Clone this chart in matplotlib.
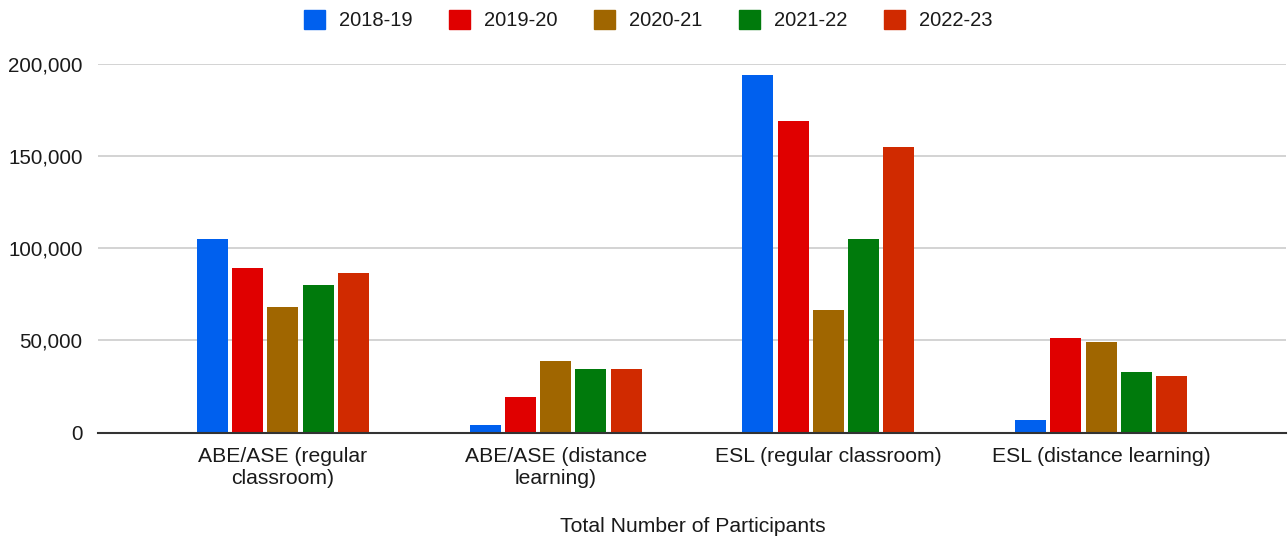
import numpy as np
import matplotlib.pyplot as plt
from matplotlib.patches import Patch

plt.rcParams['font.family'] = ['Liberation Sans', 'DejaVu Sans']

# data
categories = ["ABE/ASE (regular\nclassroom)", "ABE/ASE (distance\nlearning)",
              "ESL (regular classroom)", "ESL (distance learning)"]
years = ["2018-19", "2019-20", "2020-21", "2021-22", "2022-23"]
v_2018_19 = [104800, 4000, 193500, 7000]
v_2019_20 = [89400, 19500, 168600, 51200]
v_2020_21 = [68300, 38700, 66500, 49200]
v_2021_22 = [79900, 34700, 105000, 32900]
v_2022_23 = [86700, 34700, 155000, 30900]
series = [v_2018_19, v_2019_20, v_2020_21, v_2021_22, v_2022_23]
colors = ["#0060ee", "#e00000", "#a06600", "#007a0c", "#d02a00"]

fig = plt.figure(figsize=(12.88, 5.39), dpi=100)
ax = fig.add_axes([98 / 1288, 1 - 432.7 / 539, (1286 - 98) / 1288, 369.2 / 539])

x = np.arange(len(categories))
pitch = 0.1293
width = 0.1136
for i, (vals, c) in enumerate(zip(series, colors)):
    ax.bar(x + (i - 2) * pitch, vals, width, color=c, zorder=3)

ax.set_xlim(-0.678, 3.678)
ax.set_ylim(0, 200000)
ax.set_yticks([0, 50000, 100000, 150000, 200000])
ax.set_yticklabels(["0", "50,000", "100,000", "150,000", "200,000"])
ax.set_xticks(x)
ax.set_xticklabels(categories, linespacing=1.25)
ax.tick_params(axis='both', length=0, colors='#1a1a1a')
ax.tick_params(axis='y', pad=11, labelsize=14.8)
ax.tick_params(axis='x', pad=10, labelsize=15.2)
ax.grid(axis='y', color='#cccccc', linewidth=1.2, zorder=0)
for s in ['top', 'right', 'left']:
    ax.spines[s].set_visible(False)
ax.spines['bottom'].set_color('#333333')
ax.spines['bottom'].set_linewidth(1.5)
ax.spines['bottom'].set_zorder(4)

fig.text(693 / 1288, 1 - 526 / 539, "Total Number of Participants",
         ha='center', va='center', fontsize=15.2, color='#1a1a1a')

handles = [Patch(facecolor=c, edgecolor=c) for c in colors]
fig.legend(handles, years, loc='center', bbox_to_anchor=(648 / 1288, 1 - 20 / 539),
           ncol=5, frameon=False, fontsize=14.5, handlelength=1.05, handleheight=1.05,
           handletextpad=0.7, columnspacing=1.8, labelcolor='#1a1a1a')

fig.savefig("out.png", dpi=100)
